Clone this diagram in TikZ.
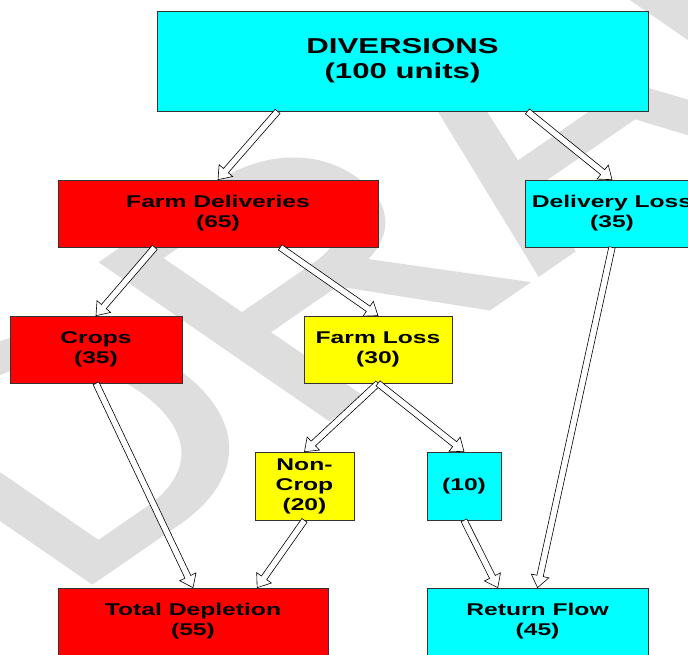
\documentclass[tikz,border=0pt]{standalone}
\usepackage{fontspec}
\usetikzlibrary{calc}
\newfontfamily\boxfont[FakeStretch=1.45]{Liberation Sans}
\newfontfamily\wmfont[FakeBold=1.5]{Liberation Sans}
\definecolor{boxcyan}{RGB}{0,255,255}
\definecolor{boxyellow}{RGB}{255,255,0}
\definecolor{boxred}{RGB}{255,0,0}
\definecolor{wmgray}{RGB}{222,222,222}

% hollow block arrow from #1 to #2
\newcommand{\flow}[2]{%
  \draw [flowarrow] let \p1=(#1), \p2=(#2), \n1={atan2(\y2-\y1,\x2-\x1)} in
    ($(\p1)+({\n1+90}:3.2pt)$) -- ($(\p2)+({\n1+180}:12pt)+({\n1+90}:3.2pt)$)
    -- ($(\p2)+({\n1+180}:12pt)+({\n1+90}:9pt)$) -- (\p2)
    -- ($(\p2)+({\n1+180}:12pt)+({\n1-90}:9pt)$)
    -- ($(\p2)+({\n1+180}:12pt)+({\n1-90}:3.2pt)$)
    -- ($(\p1)+({\n1-90}:3.2pt)$) -- cycle;}

\begin{document}
\begin{tikzpicture}[x=1pt, y=-1pt,
  box/.style={draw=black!80, line width=0.7pt, inner sep=0pt, align=center,
    font=\boxfont\bfseries\fontsize{17}{20}\selectfont},
  redbox/.style={box, fill=boxred},
  cyanbox/.style={box, fill=boxcyan},
  yellowbox/.style={box, fill=boxyellow},
  flowarrow/.style={draw=black, line width=0.6pt, fill=white, line join=miter}]

  \useasboundingbox (0,0) rectangle (688,654);
  \clip (0,0) rectangle (688,654);

  % watermark
  \begin{scope}[xscale=1.45]
    \node (wm) [anchor=base west, rotate=45, transform shape, inner sep=0pt,
      text=wmgray, font=\wmfont\fontsize{320}{320}\selectfont] at (45,600) {DRAFT};
  \end{scope}

  \node (div) [cyanbox, minimum width=491pt, minimum height=100pt,
    font=\boxfont\bfseries\fontsize{21.5}{25}\selectfont] at (402.5,61) {DIVERSIONS\\(100 units)};
  \node (fd) [redbox, minimum width=320pt, minimum height=67pt] at (218,213.5) {Farm Deliveries\\(65)};
  \node (dl) [cyanbox, minimum width=174pt, minimum height=67pt] at (612,213.5) {Delivery Loss\\(35)};
  \node (crops) [redbox, minimum width=172pt, minimum height=67pt] at (96,349.5) {Crops\\(35)};
  \node (fl) [yellowbox, minimum width=148pt, minimum height=67pt] at (378,349.5) {Farm Loss\\(30)};
  \node (nc) [yellowbox, minimum width=99pt, minimum height=68pt] at (304.5,486) {Non-\\Crop\\(20)};
  \node (ten) [cyanbox, minimum width=74pt, minimum height=68pt] at (464,486) {(10)};
  \node (td) [redbox, minimum width=270pt, minimum height=67pt] at (193,621.5) {Total Depletion\\(55)};
  \node (rf) [cyanbox, minimum width=221pt, minimum height=67pt] at (537.5,621.5) {Return Flow\\(45)};

  \flow{$(div.south west)!.246!(div.south east)$}{fd.north}
  \flow{$(div.south west)!.754!(div.south east)$}{dl.north}
  \flow{$(fd.south west)!.303!(fd.south east)$}{crops.north}
  \flow{$(fd.south west)!.694!(fd.south east)$}{fl.north}
  \flow{fl.south}{nc.north}
  \flow{fl.south}{ten.north}
  \flow{crops.south}{td.north}
  \flow{nc.south}{$(td.north west)!.737!(td.north east)$}
  \flow{ten.south}{$(rf.north west)!.321!(rf.north east)$}
  \flow{dl.south}{rf.north}
\end{tikzpicture}
\end{document}
